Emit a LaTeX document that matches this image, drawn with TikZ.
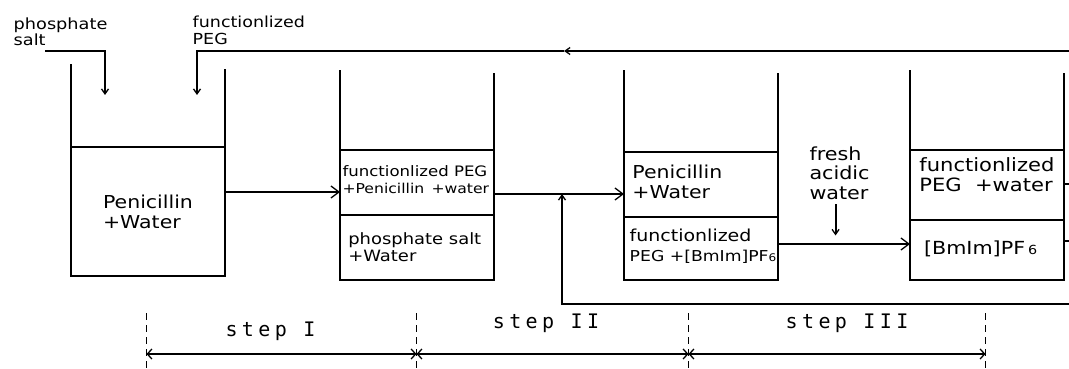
\documentclass[tikz,border=0pt]{standalone}
\usepackage{fontspec}
\setmainfont{DejaVu Sans}[FakeStretch=1.15]
\newfontfamily\stepfont{DejaVu Sans Mono}[LetterSpace=22]
\usetikzlibrary{positioning,arrows.meta}

\begin{document}
\begin{tikzpicture}[x=1pt, y=-1pt, line width=2pt,
		phase/.style={draw, minimum width=154pt, inner sep=0pt, outer sep=0pt},
		txt/.style={anchor=west, inner sep=0pt, align=left},
		flow/.style={-{Straight Barb[length=8pt,width=12pt,line width=1.3pt]}},
		feed/.style={-{Straight Barb[length=5pt,width=7pt,line width=1.3pt]}},
		guide/.style={line width=1pt, dash pattern=on 7pt off 5pt},
		dim/.style={{Straight Barb[length=4.5pt,width=10pt,line width=1.3pt]}-{Straight Barb[length=4.5pt,width=10pt,line width=1.3pt]}},
		steplbl/.style={font=\stepfont\fontsize{20}{22}\selectfont, inner sep=0pt}
		]
		\path[use as bounding box, fill=white] (0,0) rectangle (1069,369);

		% beakers
		\node[phase, minimum height=129pt, anchor=north west, align=left,
			font=\fontsize{17.8}{20}\selectfont] (b1low) at (71,147) {Penicillin\\+Water};
		\node[phase, minimum height=65pt, anchor=north west] (b2top) at (340,150) {};
		\node[phase, minimum height=65pt, below=0pt of b2top] (b2low) {};
		\node[phase, minimum height=65pt, anchor=north west] (b3top) at (624,152) {};
		\node[phase, minimum height=63pt, below=0pt of b3top] (b3low) {};
		\node[phase, minimum height=70pt, anchor=north west] (b4top) at (910,150) {};
		\node[phase, minimum height=60pt, below=0pt of b4top] (b4low) {};
		\draw (b1low.north west) -- ++(0,-83);
		\draw (b1low.north east) -- ++(0,-78);
		\draw (b2top.north west) -- ++(0,-80);
		\draw (b2top.north east) -- ++(0,-77);
		\draw (b3top.north west) -- ++(0,-82);
		\draw (b3top.north east) -- ++(0,-79);
		\draw (b4top.north west) -- ++(0,-80);
		\draw (b4top.north east) -- ++(0,-77);

		% phase contents
		\node[txt, font=\fontsize{14.4}{16.7}\selectfont] (t2a) at (341.5,179.5) {functionlized PEG\\{\fontsize{13.6}{16.7}\selectfont +Penicillin\, +water}};
		\node[txt, font=\fontsize{15.6}{17}\selectfont] (t2b) at (347.3,247.5) {phosphate salt\\+Water};
		\node[txt, font=\fontsize{17.8}{20.6}\selectfont] (t3a) at (631.4,182) {Penicillin\\+Water};
		\node[txt, font=\fontsize{16.5}{20}\selectfont] (t3b) at (628.7,246.7) {functionlized\\{\fontsize{15}{20}\selectfont PEG +[BmIm]PF{\fontsize{10.5}{10.5}\selectfont 6}}};
		\node[txt, font=\fontsize{18.3}{20.7}\selectfont] (t4a) at (918.4,174.7) {functionlized\\PEG~ +water};
		\node[txt, font=\fontsize{18}{20}\selectfont] (t4b) at (923,249.3) {[BmIm]PF\,{\fontsize{12.5}{12.5}\selectfont 6}};

		% feeds
		\node[txt, font=\fontsize{15.4}{16.7}\selectfont] (lsalt) at (12.7,31.7) {phosphate\\salt};
		\node[txt, font=\fontsize{15.2}{16.7}\selectfont] (lpeg) at (191.7,30) {functionlized\\PEG};
		\node[txt, font=\fontsize{18}{19.5}\selectfont] (fresh) at (808.5,173) {fresh\\acidic\\water};
		\coordinate (saltin) at (45,51);
		\coordinate (saltend) at (105,95);
		\coordinate (pegin) at (1069,51);
		\coordinate (pegmid) at (564,51);
		\coordinate (pegend) at (197,95);
		\coordinate (mix) at (562,194);
		\coordinate (recin) at (1069,304);
		\coordinate (out4a) at (1069,184);
		\coordinate (out4b) at (1069,241);
		\draw[feed] (saltin) -- (saltin -| saltend) -- (saltend);
		\draw[feed] (pegin) -- (pegmid);
		\draw[feed] (pegmid) -- (pegmid -| pegend) -- (pegend);
		\draw[feed] ([xshift=-4pt,yshift=-4pt]fresh.south) -- ++(0,31);

		% streams
		\draw[flow] ([yshift=19.5pt]b1low.east) -- ([yshift=19.5pt]b1low.east -| b2top.west);
		\draw[flow] ([yshift=-11.5pt]b2top.east) -- ([yshift=-11.5pt]b2top.east -| b3top.west);
		\draw[feed] (recin) -- (recin -| mix) -- (mix);
		\draw[flow] ([yshift=4.5pt]b3low.east) -- ([yshift=4.5pt]b3low.east -| b4low.west);
		\draw (b4top.east |- out4a) -- (out4a);
		\draw (b4low.east |- out4b) -- (out4b);

		% steps
		\foreach \x/\n in {146.5/d0, 416.5/d1, 688.5/d2, 985.5/d3}{
			\coordinate (\n) at (\x,354);
			\draw[guide] (\x,313) -- (\x,369);
		}
		\draw[dim] (d0) -- (d1);
		\draw[dim] (d1) -- (d2);
		\draw[dim] (d2) -- (d3);
		\node[steplbl] (s1) at (270.5,331) {step I};
		\node[steplbl] (s2) at (546,323) {step II};
		\node[steplbl] (s3) at (847,323) {step III};
	\end{tikzpicture}
\end{document}
